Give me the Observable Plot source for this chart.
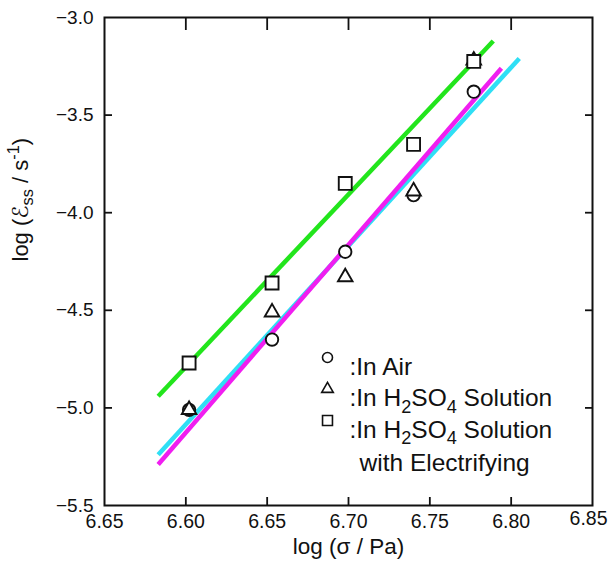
<!DOCTYPE html>
<html>
<head>
<meta charset="utf-8">
<script src="https://cdn.jsdelivr.net/npm/d3@7"></script>
<script src="https://cdn.jsdelivr.net/npm/@observablehq/plot@0.6"></script>
<style>
  html, body { margin: 0; padding: 0; background: #ffffff; }
  #chart svg { font-family: "Liberation Sans", Arial, "DejaVu Sans", sans-serif; }
</style>
</head>
<body>
<div id="chart"></div>
<script>
// ---- data ----
const stress = [6.602, 6.653, 6.698, 6.740, 6.777];          // log(σ / Pa)
const airRate = [-5.01, -4.65, -4.20, -3.91, -3.38];          // ○ In Air
const acidRate = [-5.01, -4.51, -4.33, -3.89, -3.22];         // △ In H2SO4 Solution
const electRate = [-4.77, -4.36, -3.85, -3.65, -3.225];       // □ In H2SO4 Solution with Electrifying

// fitted lines (end points), in drawing order
const fitNames = ["electrifying", "lineCyan", "lineMagenta"];
const fitX1 = [6.583, 6.583, 6.583];
const fitY1 = [-4.94, -5.24, -5.29];
const fitX2 = [6.789, 6.805, 6.794];
const fitY2 = [-3.12, -3.21, -3.26];
const fitColors = ["#22e51c", "#2fdff5", "#f01ef0"];

// axes
const xTicks = [6.55, 6.60, 6.65, 6.70, 6.75, 6.80, 6.85];
const xTickLabels = ["6.65", "6.60", "6.65", "6.70", "6.75", "6.80", "6.85"];
const yTicks = [-5.5, -5.0, -4.5, -4.0, -3.5, -3.0];
const xLabel = "log (σ / Pa)";
const yLabel = "log (ℰₛₛ / s⁻¹)";

// legend
const legendSymbols = ["circle", "triangle", "square"];
const legendTexts = [":In Air", ":In H₂SO₄ Solution", ":In H₂SO₄ Solution"];
const legendExtra = "with Electrifying";

const xLabelMap = new Map(xTicks.map((t, i) => [t, xTickLabels[i]]));
const ink = "#111111";

const marks = [];

// fitted lines
fitNames.forEach((name, i) => {
  marks.push(Plot.link([name], {
    x1: () => fitX1[i], y1: () => fitY1[i],
    x2: () => fitX2[i], y2: () => fitY2[i],
    stroke: fitColors[i], strokeWidth: 4.5, strokeLinecap: "butt"
  }));
});

// data points (white filled, drawn circle → triangle → square)
marks.push(Plot.dot(stress, {x: d => d, y: (d, i) => airRate[i], symbol: "circle", r: 6.2, stroke: ink, strokeWidth: 1.9, fill: "white"}));
marks.push(Plot.dot(stress, {x: d => d, y: (d, i) => acidRate[i], symbol: "triangle", r: 5.4, stroke: ink, strokeWidth: 1.9, fill: "white"}));
marks.push(Plot.dot(stress, {x: d => d, y: (d, i) => electRate[i], symbol: "square", r: 7.3, stroke: ink, strokeWidth: 1.9, fill: "white"}));

// frame & axes
marks.push(Plot.frame({stroke: ink, strokeWidth: 2}));
marks.push(Plot.axisX(xTicks.slice(0, -1), {anchor: "bottom", tickSize: 0, tickPadding: 9, tickFormat: d => xLabelMap.get(d), fontSize: 19.5}));
marks.push(Plot.axisX(xTicks.slice(-1), {anchor: "bottom", tickSize: 0, tickPadding: 6, dx: -4, tickFormat: d => xLabelMap.get(d), fontSize: 19.5}));
marks.push(Plot.axisX(xTicks.slice(1, -1), {anchor: "bottom", tickSize: -8, tickFormat: () => "", strokeWidth: 1.8}));
marks.push(Plot.axisX(xTicks.slice(1, -1), {anchor: "top", tickSize: -12, tickFormat: () => "", strokeWidth: 1.8}));
marks.push(Plot.axisY(yTicks, {anchor: "left", tickSize: 0, tickPadding: 11, tickFormat: d3.format(".1f"), fontSize: 19, letterSpacing: 1}));
marks.push(Plot.axisY(yTicks.slice(1, -1), {anchor: "left", tickSize: -8, tickFormat: () => "", strokeWidth: 1.8}));
marks.push(Plot.axisY(yTicks.slice(1, -1), {anchor: "right", tickSize: -8, tickFormat: () => "", strokeWidth: 1.8}));

// axis titles
marks.push(Plot.text([xLabel], {text: d => d, frameAnchor: "bottom", dy: 48, fontSize: 22.5, fill: ink}));
marks.push(Plot.text([yLabel], {text: d => d, frameAnchor: "left", dx: -84, rotate: -90, fontSize: 22, fill: ink}));

// legend
const legendR = {circle: 5, triangle: 4.3, square: 5.6};
legendSymbols.forEach((s, i) => {
  const dy = 340 + i * 31.5;
  marks.push(Plot.dot([s], {frameAnchor: "top-left", dx: 223, dy, symbol: s, r: legendR[s], stroke: ink, strokeWidth: 1.6, fill: "none"}));
  marks.push(Plot.text([legendTexts[i]], {text: d => d, frameAnchor: "top-left", dx: 245, dy, textAnchor: "start", fontSize: 24.5, fill: ink}));
});
marks.push(Plot.text([legendExtra], {text: d => d, frameAnchor: "top-left", dx: 255, dy: 340 + 3 * 32, textAnchor: "start", fontSize: 24.5, fill: ink}));

const chart = Plot.plot({
  width: 609,
  height: 569,
  marginLeft: 104,
  marginRight: 17,
  marginTop: 17,
  marginBottom: 64,
  x: {domain: [6.55, 6.85]},
  y: {domain: [-5.5, -3.0]},
  style: {background: "#ffffff", color: ink, fontSize: "18px", fontFamily: "'Liberation Sans', Arial, 'DejaVu Sans', sans-serif"},
  marks
});

// convert unicode sub/superscript characters into real tspans
const subMap = {"₂": "2", "₄": "4", "ₛ": "s"};
const supMap = {"⁻": "-", "¹": "1"};
d3.select(chart).selectAll("text").each(function () {
  const s = this.textContent;
  if (![...s].some(c => subMap[c] || supMap[c])) return;
  let node = this, base = NaN;
  while (node && isNaN(base)) { base = parseFloat(node.getAttribute && node.getAttribute("font-size")); node = node.parentNode; }
  if (isNaN(base)) base = 18;
  const groups = [];
  for (const c of s) {
    const kind = subMap[c] ? "sub" : supMap[c] ? "sup" : "normal";
    const ch = subMap[c] || supMap[c] || c;
    if (groups.length && groups[groups.length - 1].kind === kind) groups[groups.length - 1].t += ch;
    else groups.push({kind, t: ch});
  }
  this.textContent = "";
  const el = d3.select(this);
  let offset = 0;
  for (const g of groups) {
    const target = g.kind === "sub" ? base * 0.25 : g.kind === "sup" ? -base * 0.38 : 0;
    const ts = el.append("tspan").attr("dy", target - offset).text(g.t);
    if (g.kind !== "normal") ts.attr("font-size", base * 0.74);
    offset = target;
  }
});

document.getElementById("chart").appendChild(chart);
</script>
</body>
</html>
